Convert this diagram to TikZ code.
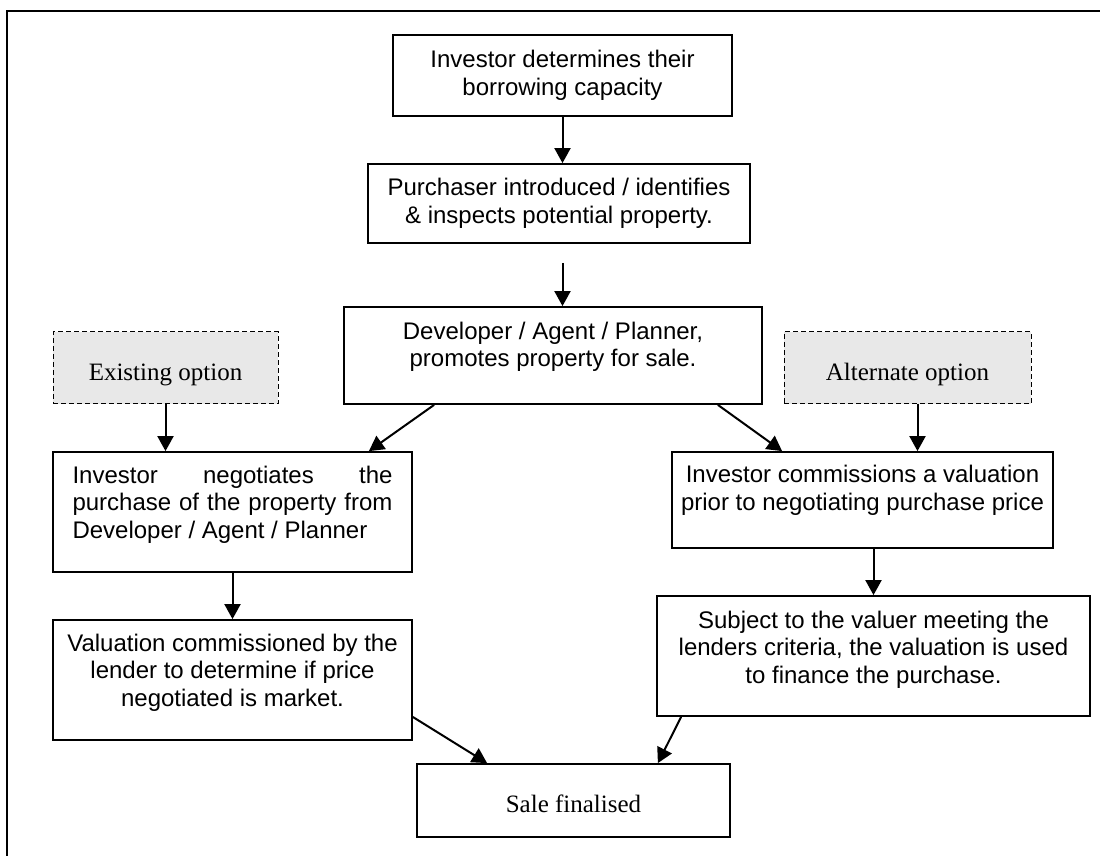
\documentclass[tikz,border=0pt]{standalone}
\usepackage{fontspec}
\setmainfont{Liberation Serif}
\newfontfamily\arialfont{Liberation Sans}
\usepackage{tikz}
\usetikzlibrary{arrows.meta}
\definecolor{optgray}{RGB}{232,232,232}

\begin{document}
\begin{tikzpicture}[x=0.5pt, y=-0.5pt,
		box/.style={draw, line width=0.9pt, inner sep=0pt, align=center,
			font=\arialfont\fontsize{12}{13.8}\selectfont},
		optbox/.style={draw, line width=0.5pt, dash pattern=on 2.5pt off 1.5pt,
			fill=optgray, inner sep=0pt, text height=12pt, text depth=0pt,
			font=\fontsize{12.5}{14}\selectfont},
		endbox/.style={draw, line width=0.9pt, inner sep=0pt, text height=12pt,
			text depth=0pt, font=\fontsize{12.5}{14}\selectfont},
		arr/.style={line width=1pt, -{Triangle[length=7.5pt, width=8pt]}}]
	\useasboundingbox (0,0) rectangle (1100,856);
	% outer frame, cut by the page
	\draw[line width=1.2pt] (7,856) -- (7,11) -- (1100,11);

	\node[box, minimum width=169.5pt, minimum height=40.5pt] (cap) at (562.5,75.5)
		{Investor determines their\\ borrowing capacity};
	\node[box, minimum width=191pt, minimum height=39.5pt] (purch) at (559,203.5)
		{Purchaser introduced / identifies\\ \& inspects potential property.};
	\node[box, minimum width=209pt, minimum height=48.5pt] (dev) at (553,355.5)
		{Developer / Agent / Planner,\\ promotes property for sale.\\[-2.8pt]\mbox{}};
	\node[optbox, minimum width=112.5pt, minimum height=36pt] (exist) at (165.5,368)
		{Existing option};
	\node[optbox, minimum width=123.5pt, minimum height=36pt] (alt) at (907.5,368)
		{Alternate option};
	\node[box, align=justify, text width=160pt, inner xsep=9.75pt, minimum height=60pt] (neg) at (232.5,512)
		{Investor negotiates the\linebreak purchase of the property from\linebreak Developer / Agent / Planner\\[-3.8pt]\mbox{}};
	\node[box, minimum width=190.5pt, minimum height=48pt] (comm) at (862.5,500)
		{Investor commissions a valuation\\ prior to negotiating purchase price\\[-1.8pt]\mbox{}};
	\node[box, minimum width=179.5pt, minimum height=60pt] (val) at (232.5,680)
		{Valuation commissioned by the\\ lender to determine if price\\ negotiated is market.\\[-3.8pt]\mbox{}};
	\node[box, minimum width=216.5pt, minimum height=60pt] (subj) at (873.5,656)
		{Subject to the valuer meeting the\\ lenders criteria, the valuation is used\\ to finance the purchase.\\[-4.8pt]\mbox{}};
	\node[endbox, minimum width=156.5pt, minimum height=36.5pt] (sale) at (573.5,800.5)
		{Sale finalised};

	\draw[arr] (cap) -- (cap |- purch.north);
	\draw[arr, shorten <=9.5pt] (purch.south -| cap) -- (dev.north -| cap);
	\draw[arr] ([xshift=45.5pt]dev.south west) -- ([xshift=-22pt]neg.north east);
	\draw[arr] ([xshift=-22.5pt]dev.south east) -- ([xshift=55.5pt]comm.north west);
	\draw[arr] (exist) -- (exist |- neg.north);
	\draw[arr] ([xshift=5pt]alt.south) -- ([xshift=5pt]alt.south |- comm.north);
	\draw[arr] (neg.south) -- (val.north);
	\draw[arr] (comm.south -| subj) -- (subj.north);
	\draw[arr] ([yshift=-18.5pt]val.east) -- ([xshift=35.5pt]sale.north west);
	\draw[arr] ([xshift=12.5pt]subj.south west) -- ([xshift=-36.5pt]sale.north east);
\end{tikzpicture}
\end{document}
